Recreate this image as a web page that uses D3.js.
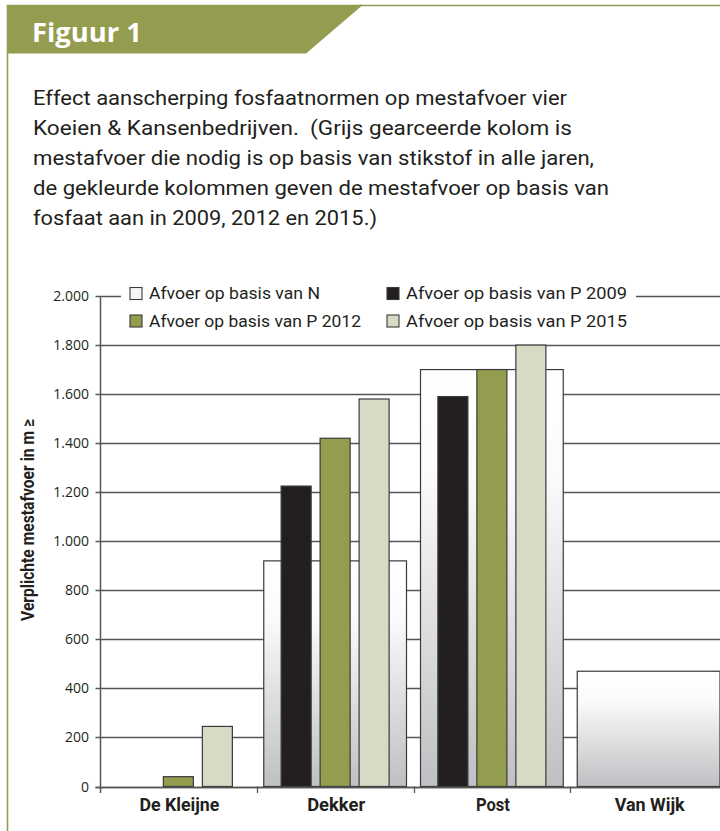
<!DOCTYPE html>
<html>
<head>
<meta charset="utf-8">
<script src="https://cdn.jsdelivr.net/npm/d3@7"></script>
<style>
  html, body { margin: 0; padding: 0; background: #fff; }
  svg { display: block; }
</style>
</head>
<body>
<svg id="chart" width="720" height="831"></svg>
<script>
// ---- Data ----
const categories = ["De Kleijne", "Dekker", "Post", "Van Wijk"];
const afvoerN     = [0, 920, 1700, 470];
const afvoerP2009 = [0, 1225, 1590, 0];
const afvoerP2012 = [40, 1420, 1700, 0];
const afvoerP2015 = [245, 1580, 1800, 0];
const pSeriesKeys = ["P 2009", "P 2012", "P 2015"];
const yTicks = [0, 200, 400, 600, 800, 1000, 1200, 1400, 1600, 1800, 2000];
const legendLabels = ["Afvoer op basis van N", "Afvoer op basis van P 2009",
                      "Afvoer op basis van P 2012", "Afvoer op basis van P 2015"];
const titleText = "Figuur 1";
const descLines = [
  "Effect aanscherping fosfaatnormen op mestafvoer vier",
  "Koeien & Kansenbedrijven.  (Grijs gearceerde kolom is",
  "mestafvoer die nodig is op basis van stikstof in alle jaren,",
  "de gekleurde kolommen geven de mestafvoer op basis van",
  "fosfaat aan in 2009, 2012 en 2015.)"
];
const yTitle = "Verplichte mestafvoer in m \u2265";

// ---- Styles ----
const olive = "#949c4f";
const colP = { "P 2009": "#231f20", "P 2012": "#949c4f", "P 2015": "#d8dac5" };
const ink = "#231f20";
const gridCol = "#555555";
const font = "Roboto, 'Open Sans', 'DejaVu Sans', sans-serif";

const svg = d3.select("#chart");

// Gradient for N bars
const defs = svg.append("defs");
const grad = defs.append("linearGradient").attr("id", "gradN")
  .attr("x1", 0).attr("y1", 0).attr("x2", 0).attr("y2", 1);
grad.append("stop").attr("offset", "0%").attr("stop-color", "#ffffff");
grad.append("stop").attr("offset", "25%").attr("stop-color", "#fbfbfb");
grad.append("stop").attr("offset", "100%").attr("stop-color", "#bfc0c3");

// ---- Frame & banner ----
svg.append("line").attr("x1", 7.5).attr("x2", 7.5).attr("y1", 5).attr("y2", 831)
  .attr("stroke", olive).attr("stroke-width", 1.6);
svg.append("line").attr("x1", 360).attr("x2", 720).attr("y1", 5.5).attr("y2", 5.5)
  .attr("stroke", olive).attr("stroke-width", 1.6);
svg.append("path").attr("d", "M7,4.7 L363,4.7 L306,53.5 L7,53.5 Z").attr("fill", olive);
svg.append("text").attr("x", 32).attr("y", 42).text(titleText)
  .attr("font-family", "'Open Sans', sans-serif").attr("font-weight", 700)
  .attr("font-size", 27).attr("fill", "#fff")
  .attr("textLength", 110).attr("lengthAdjust", "spacingAndGlyphs");

// ---- Description ----
const descWidths = [534, 539, 561, 576, 344];
svg.append("g").selectAll("text").data(descLines).join("text")
  .attr("x", 33).attr("y", (d, i) => 105 + i * 30)
  .attr("font-family", font).attr("font-size", 20).attr("fill", ink)
  .attr("textLength", (d, i) => descWidths[i]).attr("lengthAdjust", "spacingAndGlyphs")
  .style("white-space", "pre")
  .text(d => d);

// ---- Scales ----
const x = d3.scaleBand().domain(categories).range([100, 727]).paddingInner(0).paddingOuter(0);
const xP = d3.scaleBand().domain(pSeriesKeys).range([0, x.bandwidth()])
  .paddingInner(0.23).paddingOuter(0.625);
const y = d3.scaleLinear().domain([0, 2000]).range([786.5, 296]);
const nInset = 7;

// ---- Gridlines ----
svg.append("g").selectAll("line").data(yTicks).join("line")
  .attr("x1", 95.5).attr("x2", 727)
  .attr("y1", d => Math.round(y(d)) + 0.5).attr("y2", d => Math.round(y(d)) + 0.5)
  .attr("stroke", gridCol).attr("stroke-width", 1.3);

// Y tick labels
svg.append("g").selectAll("text").data(yTicks).join("text")
  .attr("x", 89).attr("y", d => y(d) + 5)
  .attr("text-anchor", "end").attr("font-family", "'Open Sans', sans-serif")
  .attr("font-size", 14).attr("fill", ink)
  .text(d => d3.format(",")(d).replace(/,/g, "."));

// Y axis line
svg.append("line").attr("x1", 100.5).attr("x2", 100.5).attr("y1", y(2000)).attr("y2", 793)
  .attr("stroke", gridCol).attr("stroke-width", 1.5);
// category separator ticks
svg.append("g").selectAll("line").data(categories.slice(1)).join("line")
  .attr("x1", d => Math.round(x(d)) + 0.5).attr("x2", d => Math.round(x(d)) + 0.5)
  .attr("y1", y(0)).attr("y2", 793)
  .attr("stroke", gridCol).attr("stroke-width", 1.3);

// ---- N bars ----
const nData = categories.map((c, i) => ({ c, v: afvoerN[i] })).filter(d => d.v > 0);
svg.append("g").selectAll("rect").data(nData).join("rect")
  .attr("x", d => x(d.c) + nInset)
  .attr("width", x.bandwidth() - 2 * nInset)
  .attr("y", d => y(d.v))
  .attr("height", d => y(0) - y(d.v))
  .attr("fill", "url(#gradN)").attr("stroke", "#3a3a3a").attr("stroke-width", 1.2);

// ---- P bars ----
const pVals = { "P 2009": afvoerP2009, "P 2012": afvoerP2012, "P 2015": afvoerP2015 };
const pData = [];
categories.forEach((c, i) => pSeriesKeys.forEach(k => {
  if (pVals[k][i] > 0) pData.push({ c, k, v: pVals[k][i] });
}));
svg.append("g").selectAll("rect").data(pData).join("rect")
  .attr("x", d => x(d.c) + xP(d.k))
  .attr("width", xP.bandwidth())
  .attr("y", d => y(d.v))
  .attr("height", d => y(0) - y(d.v))
  .attr("fill", d => colP[d.k]).attr("stroke", "#3a3a3a").attr("stroke-width", 1.2);

// baseline on top
svg.append("line").attr("x1", 95.5).attr("x2", 727)
  .attr("y1", Math.round(y(0)) + 0.5).attr("y2", Math.round(y(0)) + 0.5)
  .attr("stroke", gridCol).attr("stroke-width", 1.3);

// Category labels
const catWidths = [80, 58, 34, 70];
svg.append("g").selectAll("text").data(categories).join("text")
  .attr("x", d => x(d) + x.bandwidth() / 2 + 1).attr("y", 811)
  .attr("text-anchor", "middle").attr("font-family", font).attr("font-weight", 700)
  .attr("font-size", 18).attr("fill", ink)
  .attr("textLength", (d, i) => catWidths[i]).attr("lengthAdjust", "spacingAndGlyphs")
  .text(d => d);

// Y axis title
svg.append("text")
  .attr("transform", "translate(34,520) rotate(-90)")
  .attr("text-anchor", "middle").attr("font-family", font).attr("font-weight", 700)
  .attr("font-size", 18).attr("fill", ink)
  .attr("textLength", 202).attr("lengthAdjust", "spacingAndGlyphs")
  .text(yTitle);

// ---- Legend ----
const legend = svg.append("g");
legend.append("rect").attr("x", 121).attr("y", 281).attr("width", 515).attr("height", 52).attr("fill", "#fff");
const legendFill = ["url(#gradN)", colP["P 2009"], colP["P 2012"], colP["P 2015"]];
const legendPos = [[130, 287.5], [387, 287.5], [130, 315], [387, 315]];
const legendW = [171, 221, 212, 221];
const li = legend.selectAll("g").data(legendLabels).join("g")
  .attr("transform", (d, i) => `translate(${legendPos[i][0]},${legendPos[i][1]})`);
li.append("rect").attr("x", 0).attr("y", 0).attr("width", 12).attr("height", 12)
  .attr("fill", (d, i) => i === 0 ? "#f6f6f6" : legendFill[i])
  .attr("stroke", "#3a3a3a").attr("stroke-width", 1.1);
li.append("text").attr("x", 19).attr("y", 11.5)
  .attr("font-family", font).attr("font-size", 16.5).attr("fill", ink)
  .attr("textLength", (d, i) => legendW[i]).attr("lengthAdjust", "spacingAndGlyphs")
  .text(d => d);
</script>
</body>
</html>
